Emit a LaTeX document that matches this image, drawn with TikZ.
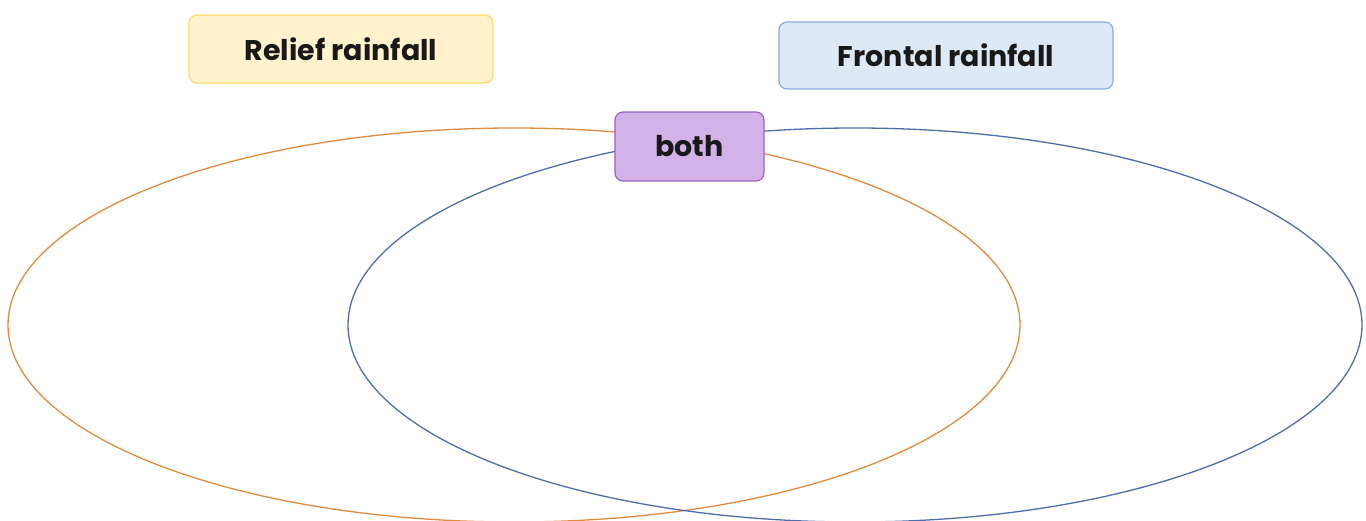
\documentclass[tikz,border=0pt]{standalone}
\usepackage{fontspec}
\setmainfont{Poppins}
\begin{document}
\begin{tikzpicture}[x=1pt,y=-1pt,
  label box/.style={rounded corners=8pt, line width=1.2pt, inner sep=0pt, font=\fontsize{28.5}{32}\selectfont\bfseries, text=black!90},
  ring/.style={line width=1.3pt}]
\definecolor{yfill}{HTML}{FFF2CC}
\definecolor{ydraw}{HTML}{FFD966}
\definecolor{bfill}{HTML}{DEE9F6}
\definecolor{bdraw}{HTML}{86AEE0}
\definecolor{pfill}{HTML}{D3B2EA}
\definecolor{pdraw}{HTML}{9A62C2}
\definecolor{oring}{HTML}{E08B3E}
\definecolor{bring}{HTML}{4E6DAA}
\useasboundingbox (0,0) rectangle (1366,521);
\draw[ring, oring] (514,325) ellipse [x radius=506, y radius=197];
\draw[ring, bring] (855,325) ellipse [x radius=507, y radius=197];
\node[label box, fill=yfill, draw=ydraw, minimum width=304pt, minimum height=68pt] (relief) at (341,49) {Relief rainfall};
\node[label box, fill=bfill, draw=bdraw, minimum width=334pt, minimum height=67pt] (frontal) at (946,55.5) {Frontal rainfall};
\node[label box, fill=pfill, draw=pdraw, minimum width=149pt, minimum height=69pt] (both) at (689.5,146.5) {both};
\end{tikzpicture}
\end{document}
